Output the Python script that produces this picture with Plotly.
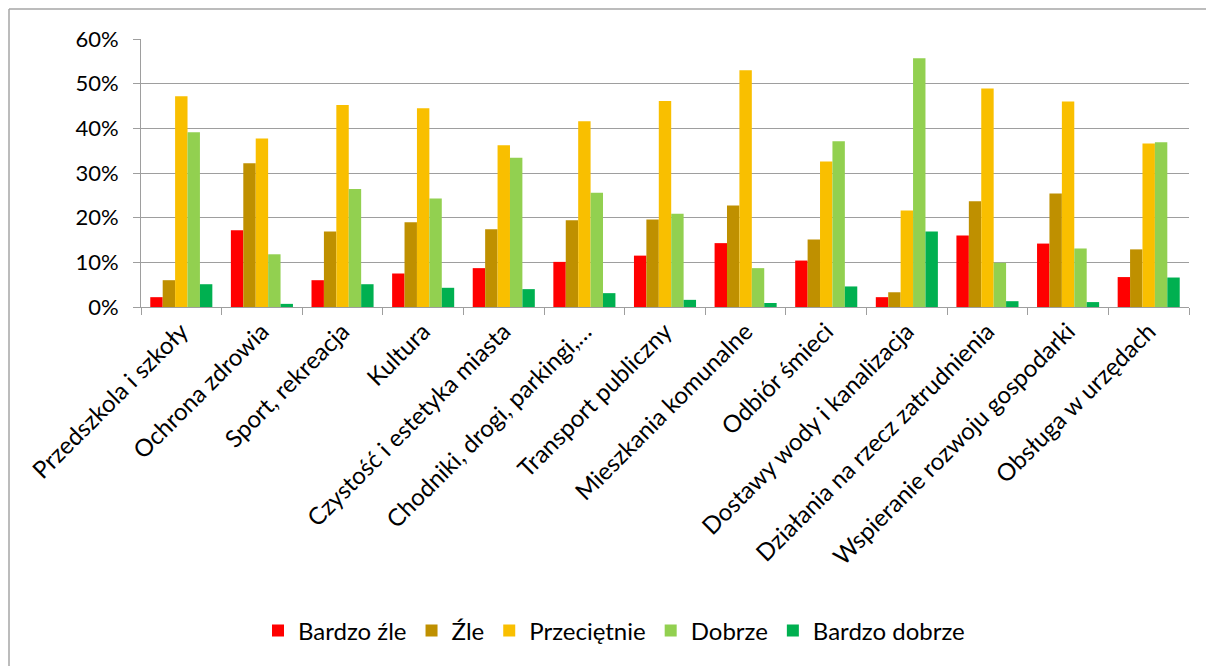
import plotly.graph_objects as go

categories = [
    "Przedszkola i szkoły", "Ochrona zdrowia", "Sport, rekreacja", "Kultura",
    "Czystość i estetyka miasta", "Chodniki, drogi, parkingi,…", "Transport publiczny",
    "Mieszkania komunalne", "Odbiór śmieci", "Dostawy wody i kanalizacja",
    "Działania na rzecz zatrudnienia", "Wspieranie rozwoju gospodarki", "Obsługa w urzędach",
]
series_names = ["Bardzo źle", "Źle", "Przeciętnie", "Dobrze", "Bardzo dobrze"]
bardzo_zle = [2.2, 17.2, 6.0, 7.5, 8.7, 10.1, 11.5, 14.3, 10.4, 2.2, 16.0, 14.2, 6.7]
zle = [6.0, 32.2, 16.9, 19.0, 17.4, 19.4, 19.6, 22.7, 15.1, 3.3, 23.7, 25.4, 12.9]
przecietnie = [47.2, 37.7, 45.2, 44.5, 36.2, 41.6, 46.1, 53.0, 32.6, 21.6, 48.9, 46.0, 36.6]
dobrze = [39.1, 11.8, 26.4, 24.3, 33.4, 25.6, 20.9, 8.7, 37.1, 55.7, 9.9, 13.1, 36.9]
bardzo_dobrze = [5.1, 0.7, 5.1, 4.3, 4.0, 3.1, 1.6, 0.9, 4.6, 16.9, 1.3, 1.1, 6.6]
colors = ["#FF0000", "#BF9000", "#F9BF00", "#92D050", "#00B050"]

fig = go.Figure()
for name, vals, col in zip(series_names, [bardzo_zle, zle, przecietnie, dobrze, bardzo_dobrze], colors):
    fig.add_trace(go.Bar(
        x=categories, y=[v / 100 for v in vals], name=name,
        marker=dict(color=col, line=dict(width=0)),
    ))

W, H = 1214, 666
OFF = 8  # page body offset
# plot area in screen coordinates: x 141..1189, y 39..307
pw, ph = 1048, 268
L, T = 141 - OFF, 39 - OFF
R, B = W - L - pw, H - T - ph

def px_x(x):
    return (x - 141) / pw

def px_y(y):
    return (307 - y) / ph

grid = "#9E9E9E"
fig.update_layout(
    width=W, height=H,
    margin=dict(l=L, r=R, t=T, b=B),
    paper_bgcolor="white", plot_bgcolor="white",
    font=dict(family="Lato, Open Sans, sans-serif", size=22, color="#000000"),
    barmode="group", bargap=0.23, bargroupgap=0,
    showlegend=True,
    legend=dict(orientation="h", x=px_x(614), xanchor="center", y=px_y(631), yanchor="middle",
                font=dict(size=24), itemwidth=30, traceorder="normal"),
    xaxis=dict(
        tickangle=-45, showgrid=False, showline=True, linecolor=grid, linewidth=1,
        ticks="outside", tickson="boundaries", ticklen=7, tickcolor=grid,
        tickfont=dict(size=24), range=[-0.5, 12.5],
    ),
    yaxis=dict(
        range=[0, 0.6], dtick=0.1, tickformat=".0%", showgrid=True, gridcolor=grid,
        gridwidth=1, showline=True, linecolor=grid, linewidth=1, ticks="outside",
        ticklen=7, tickcolor=grid, tickfont=dict(size=22), zeroline=False,
        ticklabelstandoff=10,
    ),
    shapes=[
        dict(type="line", xref="paper", yref="paper",
             x0=px_x(9), x1=px_x(1400), y0=px_y(9), y1=px_y(9),
             line=dict(color="#A6A6A6", width=1.5), layer="below"),
        dict(type="line", xref="paper", yref="paper",
             x0=px_x(9), x1=px_x(9), y0=px_y(9), y1=px_y(900),
             line=dict(color="#A6A6A6", width=1.5), layer="below"),
    ],
)

fig.write_html("out.html")
